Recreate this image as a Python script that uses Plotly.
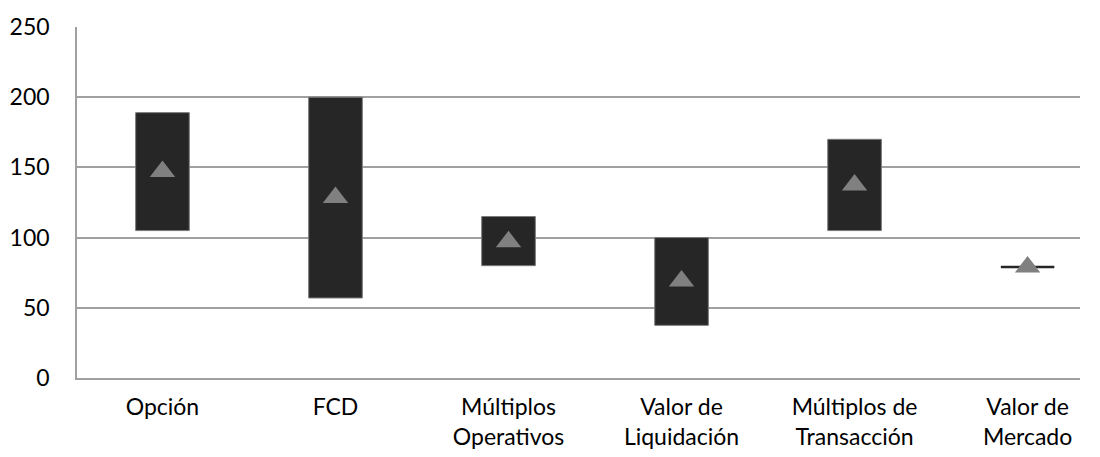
import plotly.graph_objects as go

categories = ["Opción", "FCD", "Múltiplos<br>Operativos", "Valor de<br>Liquidación",
              "Múltiplos de<br>Transacción", "Valor de<br>Mercado"]
low_values = [105, 57, 80, 37.5, 105, 79]
high_values = [189, 200, 115, 100, 170, 79]
mid_values = [147, 128.5, 97, 69, 137.5, 79]
y_ticks = [0, 50, 100, 150, 200, 250]

FONT = "Lato"
FS = 23
heights = [h - l for h, l in zip(high_values, low_values)]

fig = go.Figure()
fig.add_trace(go.Bar(
    x=categories, y=heights, base=low_values, width=0.31,
    marker=dict(color="#262626", line=dict(color="#7a7a7a", width=1)),
    hoverinfo="skip", showlegend=False,
))
# flat ranges (low == high) drawn as a horizontal dash
flat_x = [c for c, h in zip(categories, heights) if h == 0]
flat_y = [l for l, h in zip(low_values, heights) if h == 0]
fig.add_trace(go.Scatter(
    x=flat_x, y=flat_y, mode="markers",
    marker=dict(symbol="line-ew", size=38, line=dict(color="#262626", width=2.5)),
    hoverinfo="skip", showlegend=False,
))
fig.add_trace(go.Scatter(
    x=categories, y=mid_values, mode="markers",
    marker=dict(symbol="triangle-up", size=22, color="#808080", line=dict(width=0)),
    hoverinfo="skip", showlegend=False,
))

fig.update_layout(
    width=1092, height=449,
    margin=dict(l=69, r=20, t=19, b=79),
    paper_bgcolor="white", plot_bgcolor="white",
    font=dict(family=FONT, size=FS, color="#000000"),
    xaxis=dict(
        range=[-0.494, 5.303],
        showgrid=False, showline=True, linecolor="#a0a0a0", linewidth=1.5,
        ticks="", tickfont=dict(family=FONT, size=FS, color="#000000"),
        ticklabelstandoff=8, fixedrange=True, automargin=False,
    ),
    yaxis=dict(
        range=[0, 250], tickvals=y_ticks, showgrid=True, gridcolor="#a0a0a0",
        gridwidth=1.5, showline=True, linecolor="#a0a0a0", linewidth=1.5,
        zeroline=False, ticks="", ticklabelstandoff=21, automargin=False,
        tickfont=dict(family=FONT, size=FS, color="#000000"), fixedrange=True,
    ),
)

fig.write_html("out.html")
